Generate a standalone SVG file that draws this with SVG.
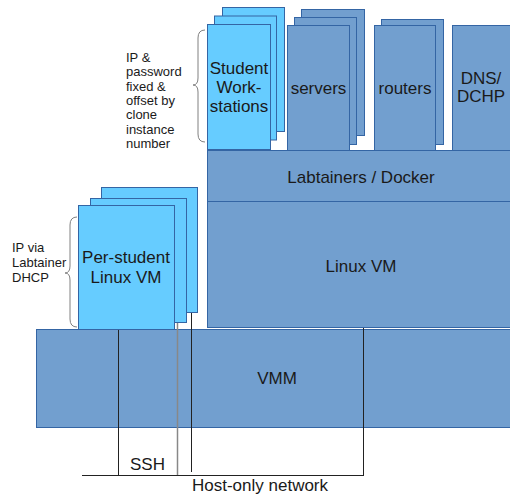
<svg xmlns="http://www.w3.org/2000/svg" width="510" height="497" viewBox="0 0 510 497">
<style>
.d{fill:#729fcf;stroke:#3465a4;stroke-width:1}
.l{fill:#66ccff;stroke:#3465a4;stroke-width:1}
.t{font-family:"Liberation Sans",Arial,sans-serif;font-size:17px;fill:#1a1a1a;text-anchor:middle}
.s{font-family:"Liberation Sans",Arial,sans-serif;font-size:13px;fill:#1a1a1a}
.br{fill:none;stroke:#808080;stroke-width:1}
.c{stroke:#222;stroke-width:1;fill:none}
</style>
<rect width="510" height="497" fill="#fff"/>
<g id="vmm">
<rect class="d" x="36.5" y="329.5" width="480" height="98"/>
<text class="t" x="277" y="384">VMM</text>
</g>
<g id="linux-vm">
<rect class="d" x="207.5" y="201.5" width="310" height="126"/>
<text class="t" x="361" y="272">Linux VM</text>
</g>
<g id="labtainers">
<rect class="d" x="207.5" y="150.5" width="310" height="51"/>
<text class="t" x="361" y="183">Labtainers / Docker</text>
</g>
<g id="workstations">
<rect class="l" x="222.5" y="7.5" width="62" height="124"/>
<rect class="l" x="214.5" y="16" width="62" height="124"/>
<rect class="l" x="207.5" y="24.5" width="63" height="125"/>
<text class="t" x="239" y="74">Student</text>
<text class="t" x="239" y="93">Work-</text>
<text class="t" x="239" y="112">stations</text>
</g>
<g id="servers">
<rect class="d" x="301.5" y="9.5" width="63" height="126"/>
<rect class="d" x="294.5" y="17.5" width="62" height="127"/>
<rect class="d" x="287.5" y="25.5" width="62" height="125"/>
<text class="t" x="318.5" y="94">servers</text>
</g>
<g id="routers">
<rect class="d" x="381.5" y="19.5" width="62" height="125"/>
<rect class="d" x="374.5" y="25.5" width="61" height="125"/>
<text class="t" x="405" y="94">routers</text>
</g>
<g id="dns">
<rect class="d" x="452.5" y="25.5" width="65" height="125"/>
<text class="t" x="481" y="84">DNS/</text>
<text class="t" x="481" y="102">DCHP</text>
</g>
<g id="per-student-vm">
<rect class="l" x="101.5" y="187.5" width="96" height="125"/>
<rect class="l" x="90.5" y="198.5" width="96" height="124"/>
<rect class="l" x="78.5" y="205.5" width="96" height="124"/>
<text class="t" x="126" y="263">Per-student</text>
<text class="t" x="126" y="283">Linux VM</text>
</g>
<g id="ws-note">
<path class="br" d="M205,30 Q198,30 198,38 L198,78 Q198,85 193,85 Q198,85 198,92 L198,134 Q198,142 205,142"/>
<text class="s" x="126" y="62">IP &amp;</text>
<text class="s" x="126" y="76.3">password</text>
<text class="s" x="126" y="90.6">fixed &amp;</text>
<text class="s" x="126" y="104.9">offset by</text>
<text class="s" x="126" y="119.2">clone</text>
<text class="s" x="126" y="133.5">instance</text>
<text class="s" x="126" y="148">number</text>
</g>
<g id="vm-note">
<path class="br" d="M77,217 Q70,217 70,225 L70,266 Q70,273 65,273 Q70,273 70,280 L70,319 Q70,327 77,327"/>
<text class="s" x="12" y="252">IP via</text>
<text class="s" x="12" y="267">Labtainer</text>
<text class="s" x="12" y="282">DHCP</text>
</g>
<g id="connectors">
<line class="c" x1="118.5" y1="330" x2="118.5" y2="475"/>
<line x1="177.5" y1="323" x2="177.5" y2="476" stroke="#888" stroke-width="1.5"/>
<line class="c" x1="191.5" y1="313" x2="191.5" y2="472"/>
<line class="c" x1="363.5" y1="328" x2="363.5" y2="475"/>
<line class="c" x1="82" y1="475.5" x2="364" y2="475.5"/>
</g>
<g id="labels">
<text class="t" x="147.5" y="470">SSH</text>
<text class="t" x="260" y="491">Host-only network</text>
</g>
</svg>
